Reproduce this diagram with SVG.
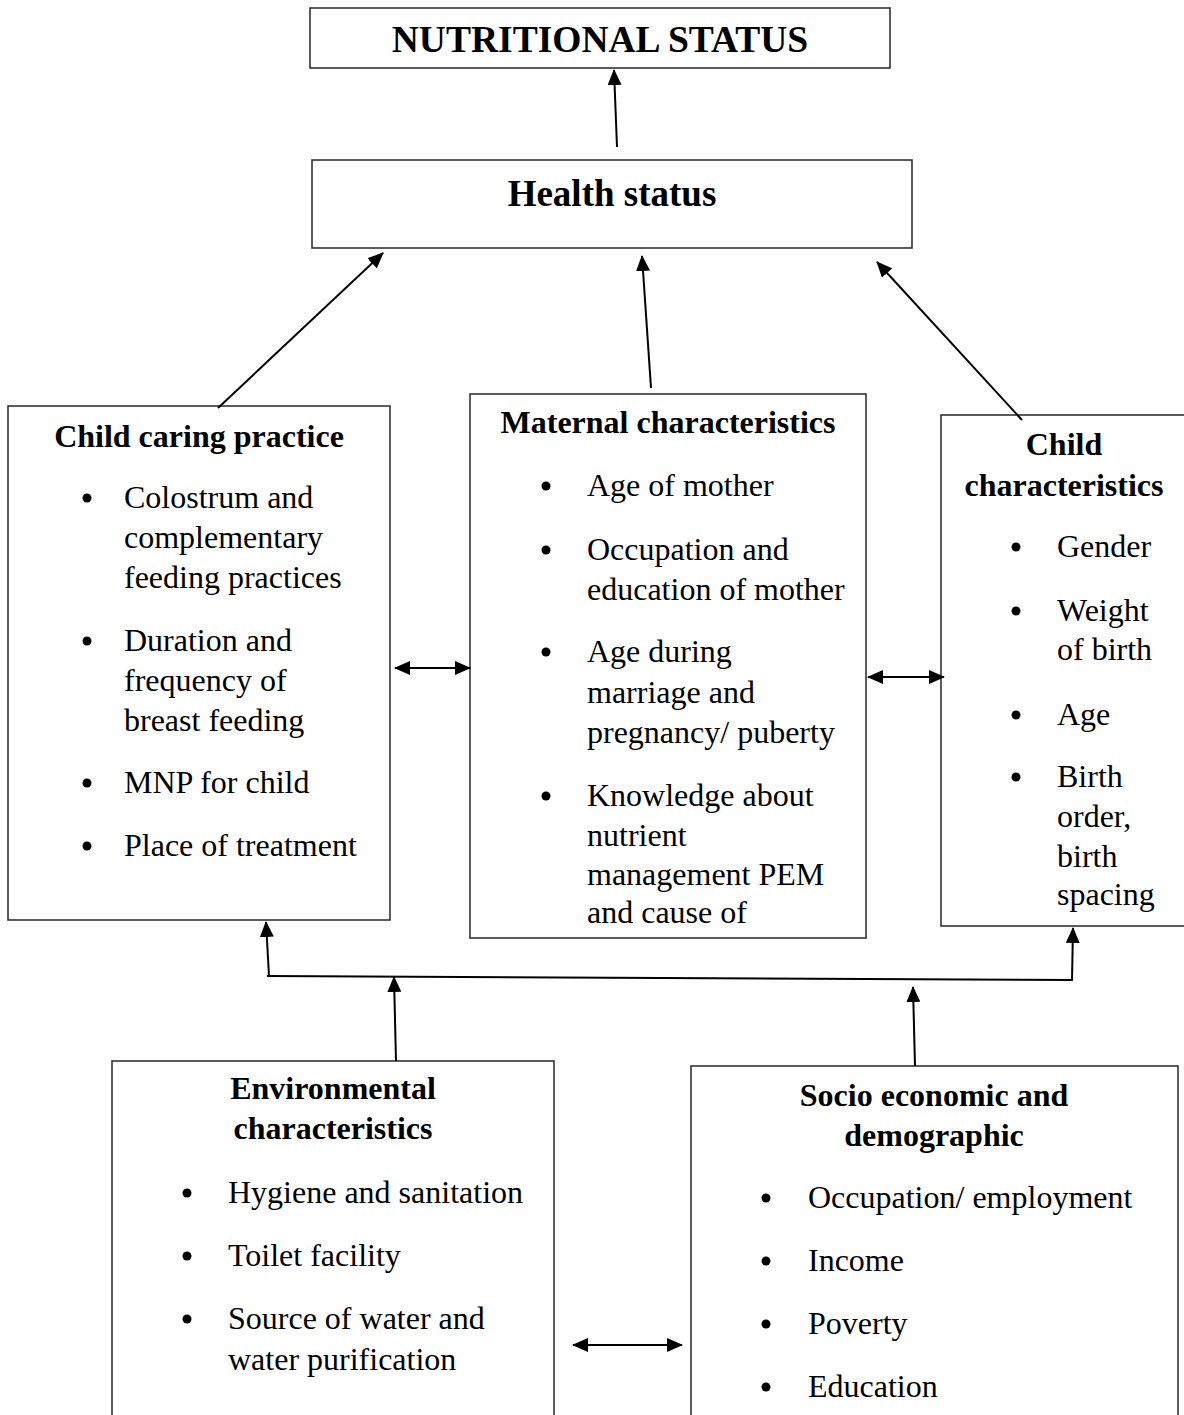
<svg xmlns="http://www.w3.org/2000/svg" width="1184" height="1415" viewBox="0 0 1184 1415">
<style>
.box{fill:#fff;stroke:#333;stroke-width:1.6}
.t{font-family:"Liberation Serif","Times New Roman",serif;fill:#000}
.h{font-weight:bold;font-size:32px;text-anchor:middle}
.b{font-size:32px}
.big{font-weight:bold;text-anchor:middle}
.c{fill:none;stroke:#000;stroke-width:2}
.dot{fill:#000}
</style>
<defs>
<marker id="ah" markerUnits="userSpaceOnUse" markerWidth="16" markerHeight="14" refX="15" refY="7" orient="auto-start-reverse" viewBox="0 0 16 14">
<path d="M0,0 L16,7 L0,14 z" fill="#000"/>
</marker>
</defs>
<rect width="1184" height="1415" fill="#fff"/>

<g id="nutritional-status">
<rect class="box" x="310" y="8" width="580" height="60"/>
<text class="t big" x="600" y="52" font-size="37.5">NUTRITIONAL STATUS</text>
</g>

<g id="health-status">
<rect class="box" x="312" y="160" width="600" height="88"/>
<text class="t big" x="612" y="206" font-size="37">Health status</text>
</g>

<g id="child-caring-practice">
<rect class="box" x="8" y="406" width="382" height="514"/>
<text class="t h" x="199" y="447">Child caring practice</text>
<circle class="dot" cx="87" cy="498" r="4.5"/>
<circle class="dot" cx="87" cy="641" r="4.5"/>
<circle class="dot" cx="87" cy="783" r="4.5"/>
<circle class="dot" cx="87" cy="846" r="4.5"/>
<text class="t b" x="124" y="508">Colostrum and</text>
<text class="t b" x="124" y="548">complementary</text>
<text class="t b" x="124" y="588">feeding practices</text>
<text class="t b" x="124" y="651">Duration and</text>
<text class="t b" x="124" y="691">frequency of</text>
<text class="t b" x="124" y="731">breast feeding</text>
<text class="t b" x="124" y="793">MNP for child</text>
<text class="t b" x="124" y="856">Place of treatment</text>
</g>

<g id="maternal-characteristics">
<rect class="box" x="470" y="394" width="396" height="544"/>
<text class="t h" x="668" y="433">Maternal characteristics</text>
<circle class="dot" cx="546" cy="486" r="4.5"/>
<circle class="dot" cx="546" cy="550" r="4.5"/>
<circle class="dot" cx="546" cy="652" r="4.5"/>
<circle class="dot" cx="546" cy="796" r="4.5"/>
<text class="t b" x="587" y="496">Age of mother</text>
<text class="t b" x="587" y="560">Occupation and</text>
<text class="t b" x="587" y="600">education of mother</text>
<text class="t b" x="587" y="662">Age during</text>
<text class="t b" x="587" y="703">marriage and</text>
<text class="t b" x="587" y="743">pregnancy/ puberty</text>
<text class="t b" x="587" y="806">Knowledge about</text>
<text class="t b" x="587" y="846">nutrient</text>
<text class="t b" x="587" y="885">management PEM</text>
<text class="t b" x="587" y="923">and cause of</text>
</g>

<g id="child-characteristics">
<rect class="box" x="941" y="415" width="250" height="511"/>
<text class="t h" x="1064" y="455">Child</text>
<text class="t h" x="1064" y="496">characteristics</text>
<circle class="dot" cx="1016" cy="547" r="4.5"/>
<circle class="dot" cx="1016" cy="611" r="4.5"/>
<circle class="dot" cx="1016" cy="715" r="4.5"/>
<circle class="dot" cx="1016" cy="777" r="4.5"/>
<text class="t b" x="1057" y="557">Gender</text>
<text class="t b" x="1057" y="621">Weight</text>
<text class="t b" x="1057" y="660">of birth</text>
<text class="t b" x="1057" y="725">Age</text>
<text class="t b" x="1057" y="787">Birth</text>
<text class="t b" x="1057" y="827">order,</text>
<text class="t b" x="1057" y="867">birth</text>
<text class="t b" x="1057" y="905">spacing</text>
</g>

<g id="environmental-characteristics">
<rect class="box" x="112" y="1061" width="442" height="370"/>
<text class="t h" x="333" y="1099">Environmental</text>
<text class="t h" x="333" y="1139">characteristics</text>
<circle class="dot" cx="187" cy="1193" r="4.5"/>
<circle class="dot" cx="187" cy="1256" r="4.5"/>
<circle class="dot" cx="187" cy="1319" r="4.5"/>
<text class="t b" x="228" y="1203">Hygiene and sanitation</text>
<text class="t b" x="228" y="1266">Toilet facility</text>
<text class="t b" x="228" y="1329">Source of water and</text>
<text class="t b" x="228" y="1370">water purification</text>
</g>

<g id="socio-economic-demographic">
<rect class="box" x="691" y="1066" width="487" height="370"/>
<text class="t h" x="934" y="1106">Socio economic and</text>
<text class="t h" x="934" y="1146">demographic</text>
<circle class="dot" cx="766" cy="1198" r="4.5"/>
<circle class="dot" cx="766" cy="1261" r="4.5"/>
<circle class="dot" cx="766" cy="1324" r="4.5"/>
<circle class="dot" cx="766" cy="1387" r="4.5"/>
<text class="t b" x="808" y="1208">Occupation/ employment</text>
<text class="t b" x="808" y="1271">Income</text>
<text class="t b" x="808" y="1334">Poverty</text>
<text class="t b" x="808" y="1397">Education</text>
</g>

<g id="connectors">
<line class="c" x1="617" y1="147" x2="614" y2="70" marker-end="url(#ah)"/>
<line class="c" x1="218" y1="408" x2="383" y2="253" marker-end="url(#ah)"/>
<line class="c" x1="651" y1="388" x2="642" y2="256" marker-end="url(#ah)"/>
<line class="c" x1="1022" y1="420" x2="877" y2="262" marker-end="url(#ah)"/>
<line class="c" x1="395" y1="668" x2="470" y2="668" marker-start="url(#ah)" marker-end="url(#ah)"/>
<line class="c" x1="868" y1="677" x2="944" y2="677" marker-start="url(#ah)" marker-end="url(#ah)"/>
<line class="c" x1="267" y1="976" x2="1073" y2="980"/>
<line class="c" x1="269" y1="976" x2="266" y2="922" marker-end="url(#ah)"/>
<line class="c" x1="1072" y1="980" x2="1073" y2="928" marker-end="url(#ah)"/>
<line class="c" x1="396" y1="1061" x2="394" y2="977" marker-end="url(#ah)"/>
<line class="c" x1="915" y1="1066" x2="913" y2="987" marker-end="url(#ah)"/>
<line class="c" x1="573" y1="1345" x2="682" y2="1345" marker-start="url(#ah)" marker-end="url(#ah)"/>
</g>
</svg>
